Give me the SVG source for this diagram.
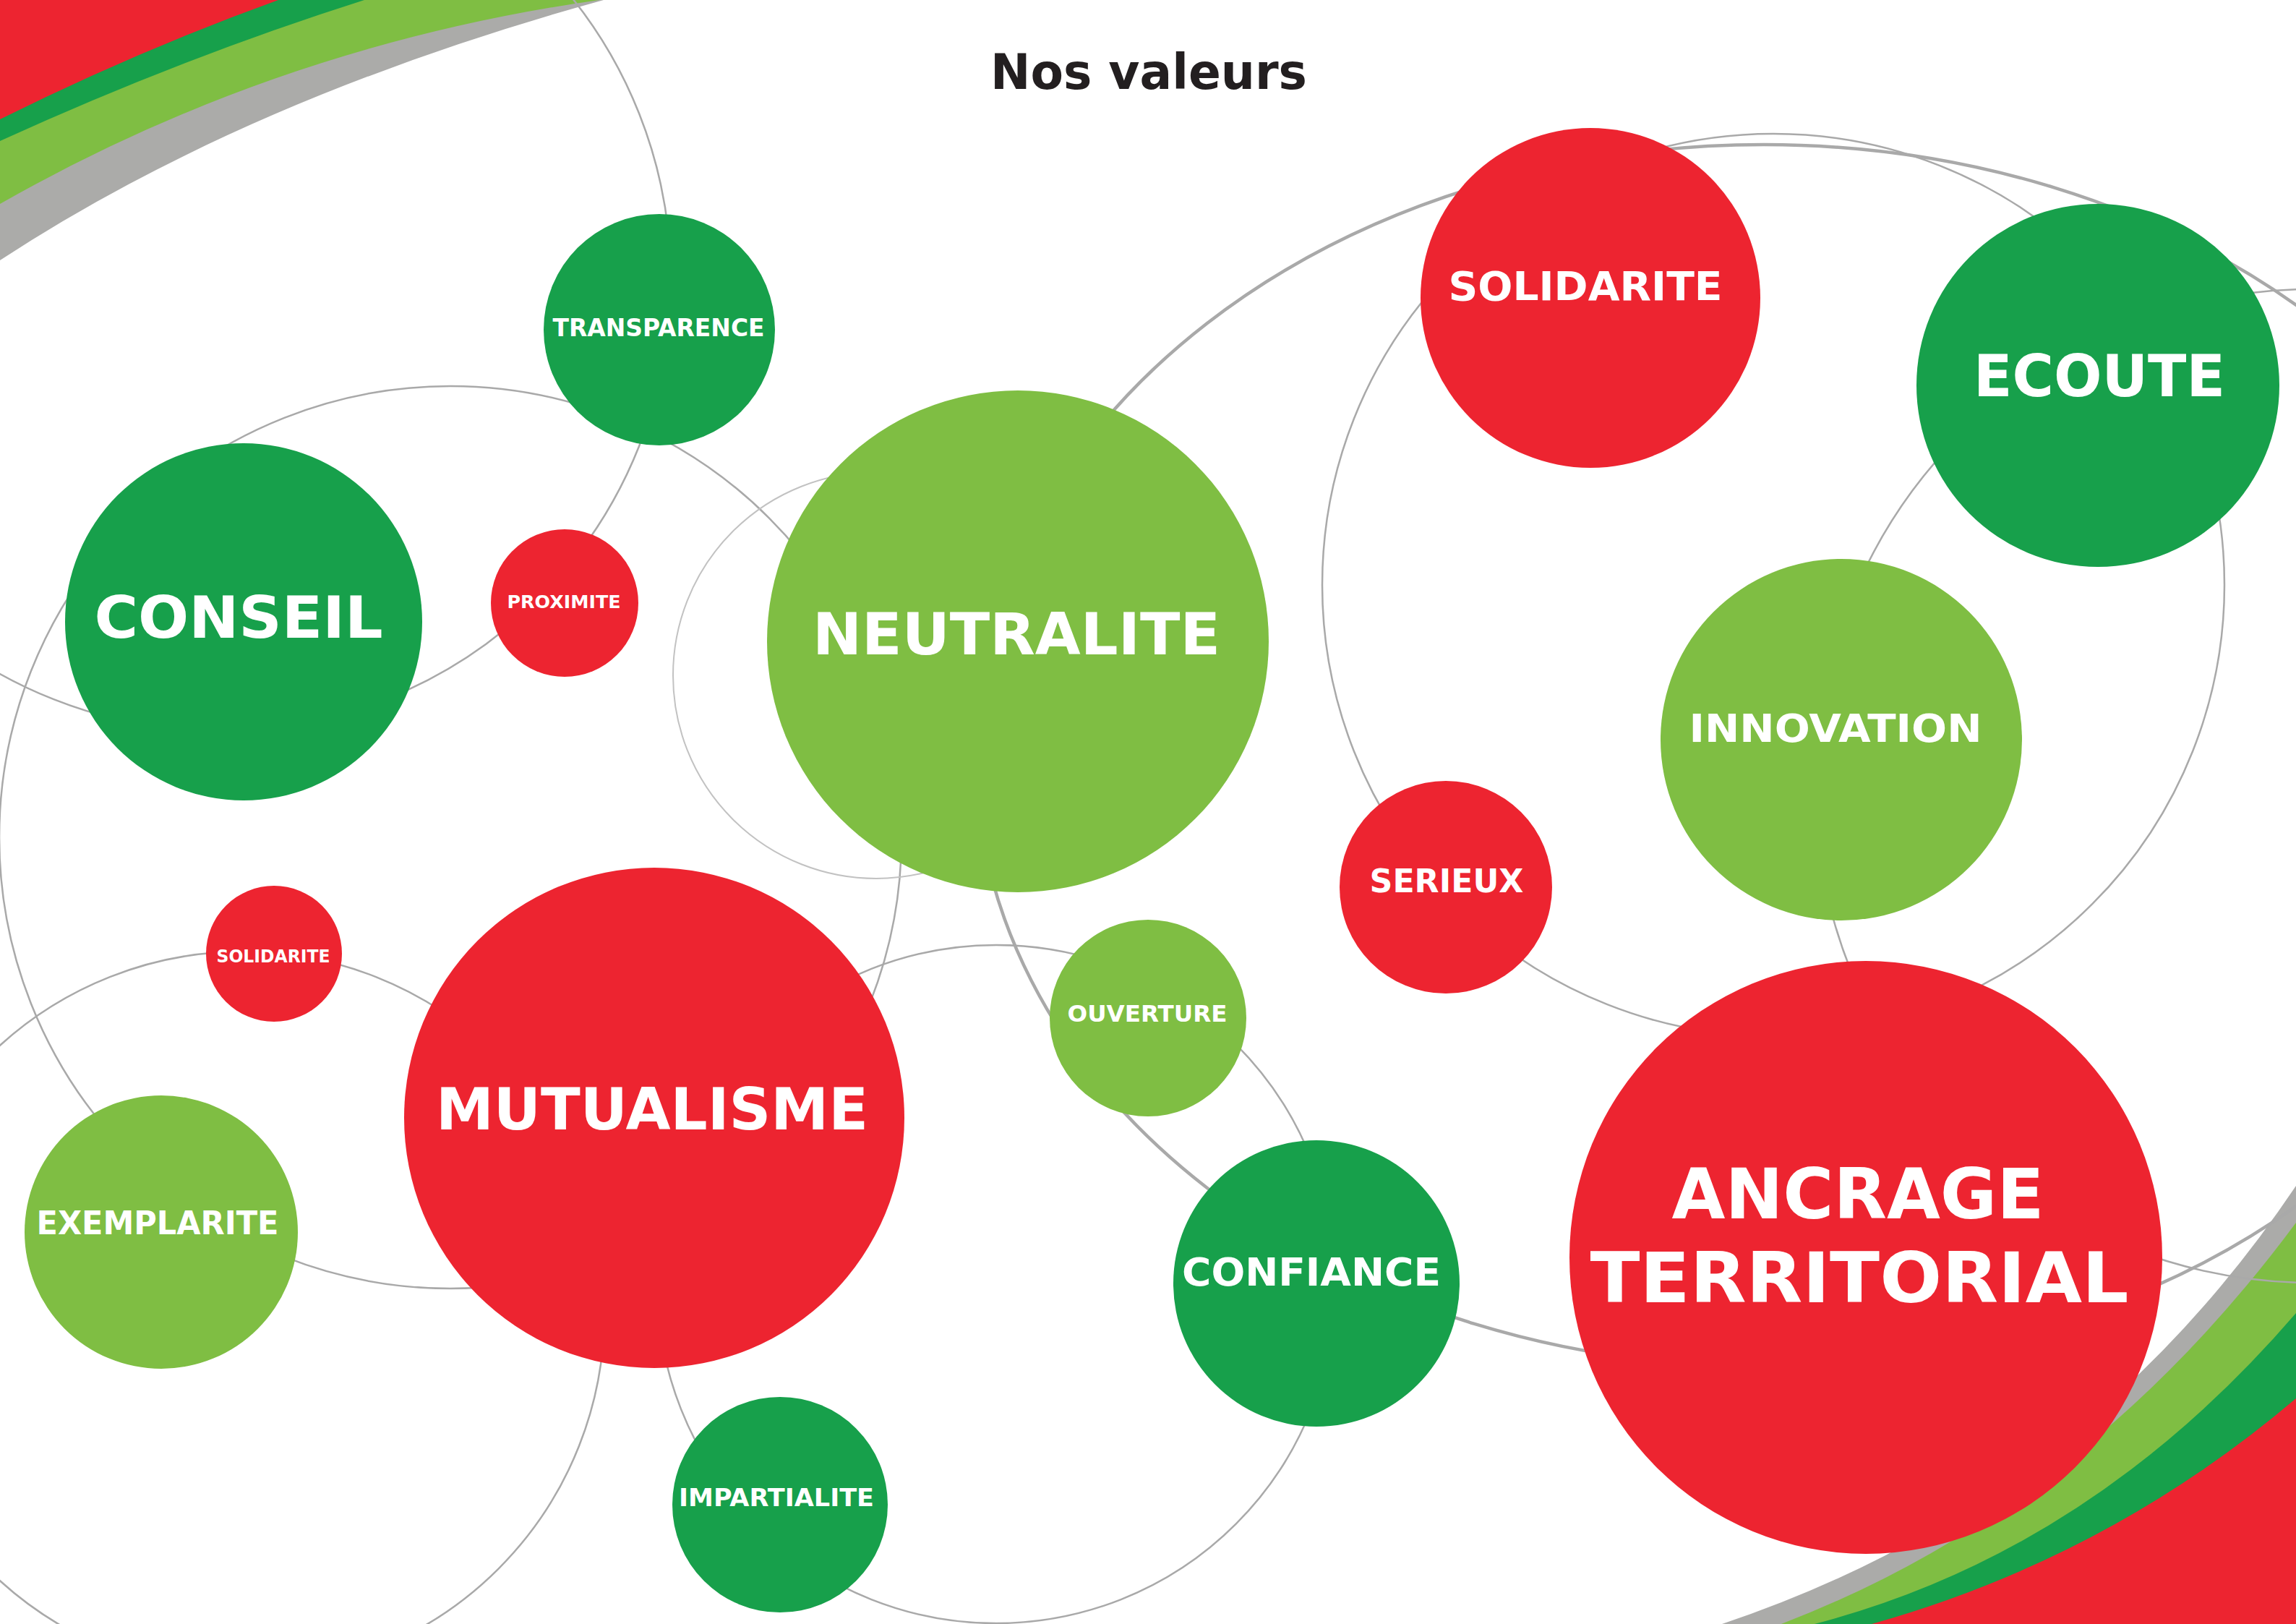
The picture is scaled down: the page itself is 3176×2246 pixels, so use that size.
<svg xmlns="http://www.w3.org/2000/svg" width="3176" height="2246" viewBox="0 0 3176 2246">
<style>
.ln{fill:none;stroke:#a9a9a9;stroke-width:2.5}
.thick{stroke-width:4.5}
.faint{stroke:#c2c2c2;stroke-width:2}
.red{fill:#ED2430}
.dg{fill:#17A04B}
.lg{fill:#7FBE43}
.gr{fill:#ABABA9}
.t{font-family:"DejaVu Sans","Verdana","Liberation Sans",sans-serif;font-weight:bold;fill:#ffffff;text-anchor:middle}
.title{font-family:"DejaVu Sans","Verdana","Liberation Sans",sans-serif;font-weight:bold;fill:#231f20;text-anchor:middle}
</style>
<rect x="0" y="0" width="3176" height="2246" fill="#ffffff"/>
<g id="bands">
<path class="gr" d="M0,360 Q342,136 835,0 L0,0 Z"/>
<path class="lg" d="M0,282 Q385,63 829,0 L0,0 Z"/>
<path class="dg" d="M0,195 Q252,80 504,0 L0,0 Z"/>
<path class="red" d="M0,165 Q191,70 385,0 L0,0 Z"/>
<path class="gr" d="M2382,2246 Q2881,2079 3176,1640 L3176,2246 Z"/>
<path class="lg" d="M2464,2246 Q2884,2085 3176,1691 L3176,2246 Z"/>
<path class="dg" d="M2510,2246 Q2891,2147 3176,1816 L3176,2246 Z"/>
<path class="red" d="M2589,2246 Q2917,2154 3176,1934 L3176,2246 Z"/>
</g>
<g id="connectors">
<circle class="ln" cx="304" cy="387" r="624"/>
<circle class="ln" cx="623" cy="1158" r="624"/>
<circle class="ln faint" cx="1212" cy="934" r="281"/>
<circle class="ln" cx="336" cy="1816" r="500"/>
<circle class="ln" cx="1378" cy="1776" r="469"/>
<circle class="ln" cx="2453" cy="809" r="624"/>
<circle class="ln" cx="3198" cy="1087" r="687"/>
<ellipse class="ln thick" cx="2440" cy="1045" rx="1090" ry="845"/>
</g>
<text class="title" x="1589" y="123" font-size="67" textLength="438" lengthAdjust="spacingAndGlyphs">Nos valeurs</text>
<g id="n-transparence"><circle class="dg" cx="912" cy="456" r="160"/><text class="t" x="911" y="465" font-size="33" textLength="293" lengthAdjust="spacingAndGlyphs">TRANSPARENCE</text></g>
<g id="n-conseil"><circle class="dg" cx="337" cy="860" r="247"/><text class="t" x="330" y="882" font-size="81" textLength="399" lengthAdjust="spacingAndGlyphs">CONSEIL</text></g>
<g id="n-proximite"><circle class="red" cx="781" cy="834" r="102"/><text class="t" x="780" y="841" font-size="25.5" textLength="157" lengthAdjust="spacingAndGlyphs">PROXIMITE</text></g>
<g id="n-neutralite"><circle class="lg" cx="1408" cy="887" r="347"/><text class="t" x="1406" y="905" font-size="80" textLength="564" lengthAdjust="spacingAndGlyphs">NEUTRALITE</text></g>
<g id="n-solidarite1"><circle class="red" cx="2200" cy="412" r="235"/><text class="t" x="2193" y="415" font-size="55" textLength="379" lengthAdjust="spacingAndGlyphs">SOLIDARITE</text></g>
<g id="n-ecoute"><circle class="dg" cx="2902" cy="533" r="251"/><text class="t" x="2904" y="548" font-size="80" textLength="348" lengthAdjust="spacingAndGlyphs">ECOUTE</text></g>
<g id="n-innovation"><circle class="lg" cx="2547" cy="1023" r="250"/><text class="t" x="2539" y="1026" font-size="54" textLength="405" lengthAdjust="spacingAndGlyphs">INNOVATION</text></g>
<g id="n-serieux"><circle class="red" cx="2000" cy="1227" r="147"/><text class="t" x="2001" y="1234" font-size="44" textLength="213" lengthAdjust="spacingAndGlyphs">SERIEUX</text></g>
<g id="n-solidarite2"><circle class="red" cx="379" cy="1319" r="94"/><text class="t" x="378" y="1331" font-size="24" textLength="157" lengthAdjust="spacingAndGlyphs">SOLIDARITE</text></g>
<g id="n-mutualisme"><circle class="red" cx="905" cy="1546" r="346"/><text class="t" x="902" y="1562" font-size="80" textLength="598" lengthAdjust="spacingAndGlyphs">MUTUALISME</text></g>
<g id="n-ouverture"><circle class="lg" cx="1588" cy="1408" r="136"/><text class="t" x="1587" y="1413" font-size="32" textLength="221" lengthAdjust="spacingAndGlyphs">OUVERTURE</text></g>
<g id="n-exemplarite"><circle class="lg" cx="223" cy="1704" r="189"/><text class="t" x="218" y="1707" font-size="44" textLength="335" lengthAdjust="spacingAndGlyphs">EXEMPLARITE</text></g>
<g id="n-confiance"><circle class="dg" cx="1821" cy="1775" r="198"/><text class="t" x="1814" y="1778" font-size="54" textLength="358" lengthAdjust="spacingAndGlyphs">CONFIANCE</text></g>
<g id="n-ancrage"><circle class="red" cx="2581" cy="1739" r="410"/><text class="t" x="2570" y="1685" font-size="96" textLength="515" lengthAdjust="spacingAndGlyphs">ANCRAGE</text><text class="t" x="2572" y="1801" font-size="96" textLength="745" lengthAdjust="spacingAndGlyphs">TERRITORIAL</text></g>
<g id="n-impartialite"><circle class="dg" cx="1079" cy="2081" r="149"/><text class="t" x="1074" y="2083" font-size="34" textLength="270" lengthAdjust="spacingAndGlyphs">IMPARTIALITE</text></g>
</svg>
